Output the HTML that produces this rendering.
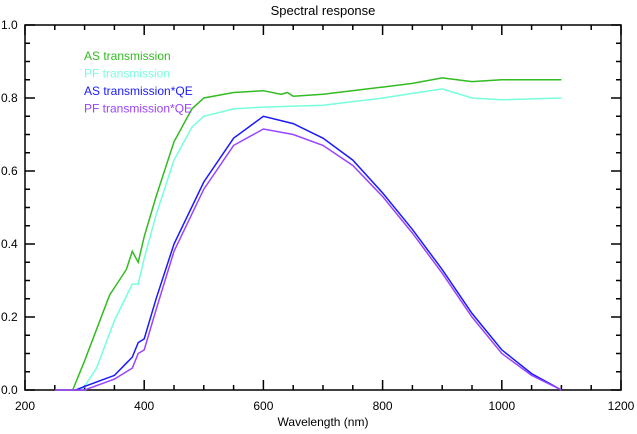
<!DOCTYPE html>
<html><head><meta charset="utf-8"><style>
html,body{margin:0;padding:0;background:#fff;}
svg text{font-family:"Liberation Sans",sans-serif;}
</style></head><body>
<svg id="chart" width="637" height="429" xmlns="http://www.w3.org/2000/svg">
<rect width="637" height="429" fill="#fff"/>
<text x="323" y="15" font-size="13" text-anchor="middle">Spectral response</text>
<text x="323" y="426" font-size="12" text-anchor="middle">Wavelength (nm)</text>
<rect x="25" y="25" width="596" height="365" fill="none" stroke="#000" stroke-width="1.5"/>
<g id="axes"></g>
<g id="series"></g>
<g id="legend"></g>
</svg>
<script>
const xTicks = [200,400,600,800,1000,1200];
const yTicks = [0,0.2,0.4,0.6,0.8,1.0];
const yTickLabels = ["0.0","0.2","0.4","0.6","0.8","1.0"];
const asWl = [280,300,342,370,380,390,400,420,450,480,500,550,600,630,640,650,700,800,850,900,950,1000,1100];
const asVal = [0,0.08,0.26,0.33,0.38,0.35,0.42,0.53,0.68,0.77,0.80,0.815,0.82,0.81,0.815,0.805,0.81,0.83,0.84,0.855,0.845,0.85,0.85];
const pfWl = [295,300,320,350,380,390,400,420,450,480,500,550,600,700,800,900,950,1000,1100];
const pfVal = [0,0.01,0.06,0.19,0.29,0.29,0.36,0.48,0.63,0.72,0.75,0.77,0.775,0.78,0.80,0.825,0.80,0.795,0.80];
const asqeWl = [285,300,350,380,390,400,420,450,500,550,600,650,700,750,800,850,900,950,1000,1050,1100];
const asqeVal = [0,0.01,0.04,0.09,0.13,0.14,0.25,0.40,0.57,0.69,0.75,0.73,0.69,0.63,0.54,0.44,0.33,0.21,0.11,0.045,0];
const pfqeWl = [250,300,350,380,390,400,420,450,500,550,600,650,700,750,800,850,900,950,1000,1050,1100];
const pfqeVal = [0,0,0.03,0.06,0.10,0.11,0.22,0.38,0.55,0.67,0.715,0.70,0.67,0.615,0.53,0.43,0.32,0.20,0.10,0.04,0];
const seriesNames = ["AS transmission","PF transmission","AS transmission*QE","PF transmission*QE"];
const seriesColors = ["#33bb22","#77ffdd","#1a1aff","#9944ff"];

const NS="http://www.w3.org/2000/svg";
const X0=25,X1=621,Y0=390,Y1=25;
function xs(w){return X0+(w-200)/1000*(X1-X0);}
function ys(v){return Y0-v*(Y0-Y1);}
function mk(tag,attrs,parent){const e=document.createElementNS(NS,tag);for(const k in attrs)e.setAttribute(k,attrs[k]);parent.appendChild(e);return e;}
const axes=document.getElementById('axes');
for(let w=200;w<=1200;w+=50){
  const major=(w%200===0);const L=major?10:5;
  const t=mk('line',{x1:xs(w),x2:xs(w),y1:Y0,y2:Y0-L,stroke:'#000','stroke-width':1.5},axes);
  
  
  const t2=mk('line',{x1:xs(w),x2:xs(w),y1:Y1,y2:Y1+L,stroke:'#000','stroke-width':1.5},axes);
  
  
}
xTicks.forEach(w=>{
  const t=mk('text',{x:xs(w),y:Y0+20,'font-size':12,'text-anchor':'middle'},axes);t.textContent=w;
  
  
});
for(let i=0;i<=20;i++){
  const v=i*0.05;const major=(i%4===0);const L=major?10:5;
  const t=mk('line',{x1:X0,x2:X0+L,y1:ys(v),y2:ys(v),stroke:'#000','stroke-width':1.5},axes);
  
  
  const t2=mk('line',{x1:X1,x2:X1-L,y1:ys(v),y2:ys(v),stroke:'#000','stroke-width':1.5},axes);
  
  
}
yTicks.forEach((v,i)=>{
  const t=mk('text',{x:1,y:ys(v)+4,'font-size':12},axes);t.textContent=yTickLabels[i];
  
  
});
const data=[[asWl,asVal],[pfWl,pfVal],[asqeWl,asqeVal],[pfqeWl,pfqeVal]];
const sg=document.getElementById('series');
const lg=document.getElementById('legend');
data.forEach((d,i)=>{
  const pts=d[0].map((w,j)=>xs(w).toFixed(1)+','+ys(d[1][j]).toFixed(1)).join(' ');
  const p=mk('polyline',{points:pts,fill:'none',stroke:seriesColors[i],'stroke-width':1.5},sg);
  
  
  const t=mk('text',{x:84,y:60+i*17.5,'font-size':12,fill:seriesColors[i]},lg);t.textContent=seriesNames[i];
  
  
});
</script>
</body></html>
